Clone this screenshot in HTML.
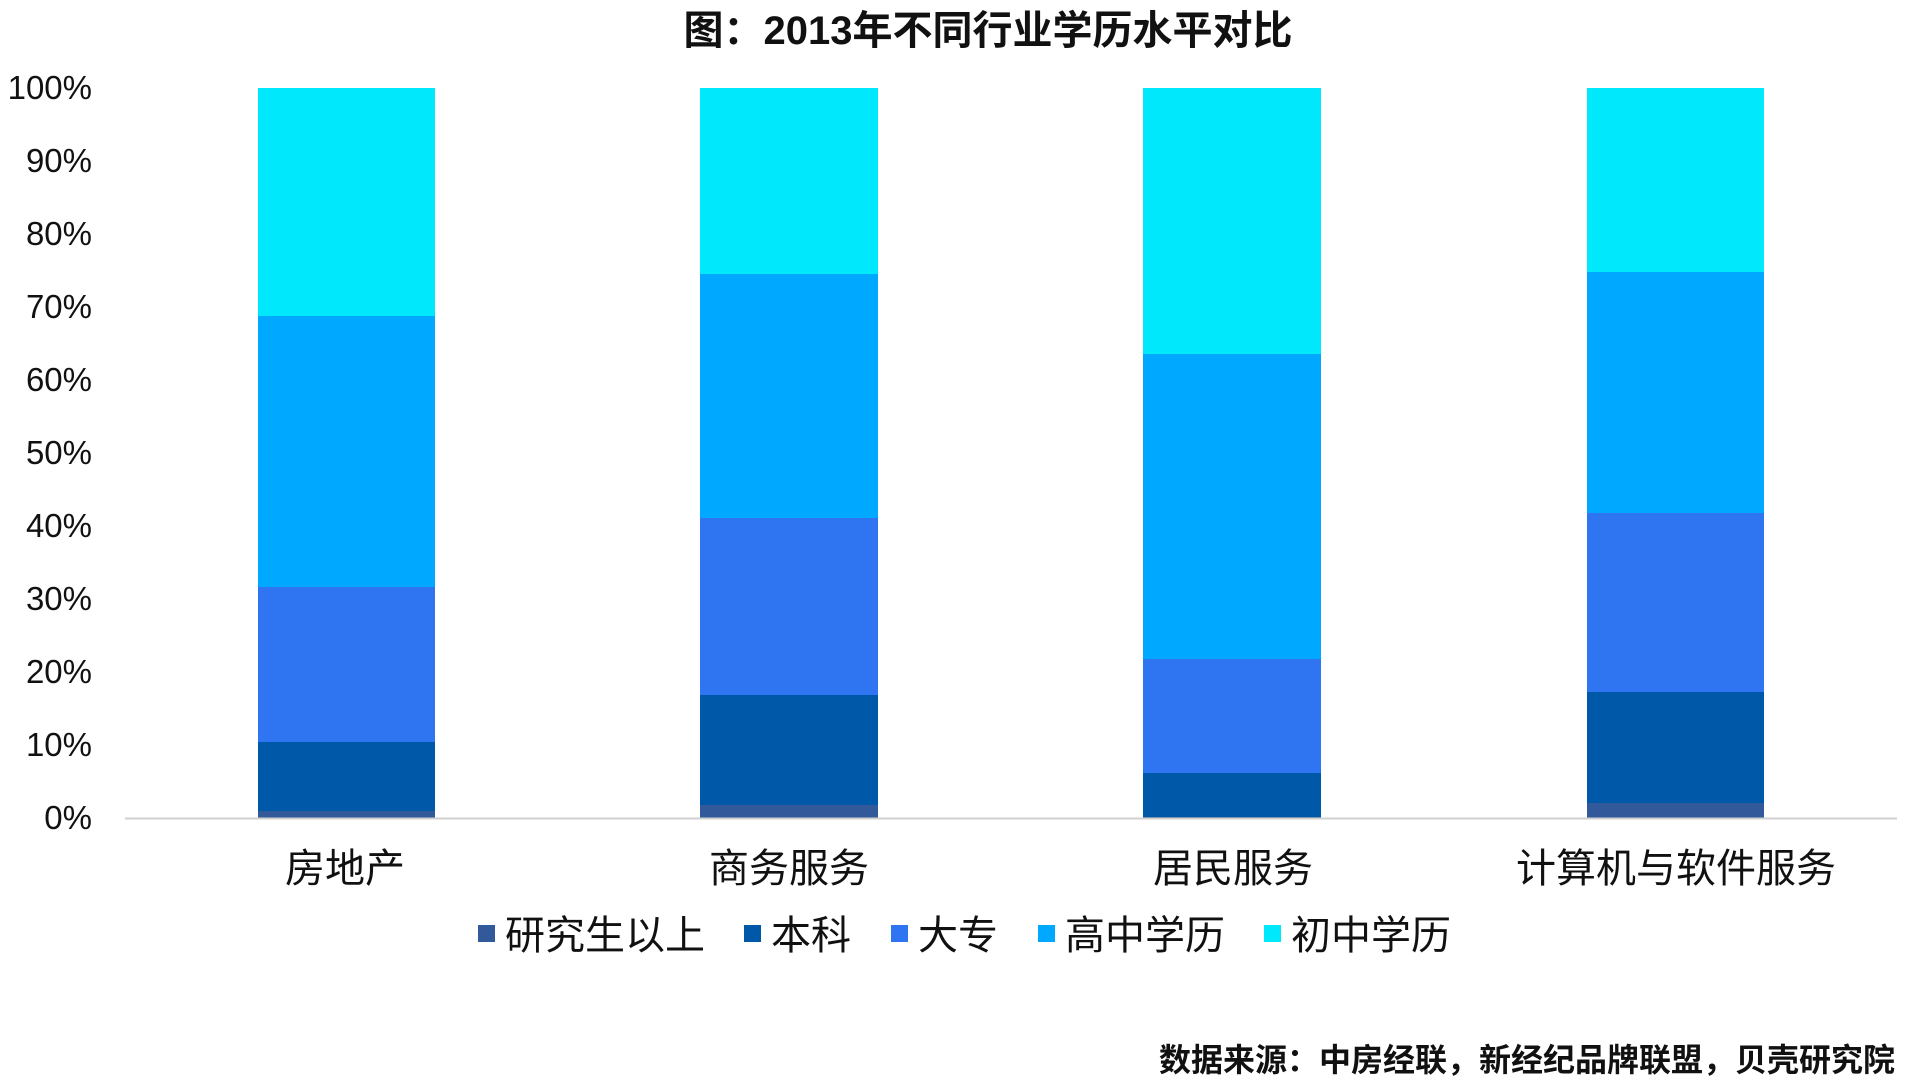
<!DOCTYPE html>
<html><head><meta charset="utf-8"><style>
body{margin:0;width:1920px;height:1080px;background:#fff;overflow:hidden}
svg text{font-family:"Liberation Sans","Noto Sans CJK SC",sans-serif;fill:#111}
</style></head><body>
<svg width="1920" height="1080" xmlns="http://www.w3.org/2000/svg">
<text x="988" y="44" font-size="40" text-anchor="middle" font-weight="bold">图：2013年不同行业学历水平对比</text>
<g font-size="33" text-anchor="end">
<text x="92" y="99">100%</text><text x="92" y="172">90%</text><text x="92" y="245">80%</text>
<text x="92" y="318">70%</text><text x="92" y="391">60%</text><text x="92" y="464">50%</text>
<text x="92" y="537">40%</text><text x="92" y="610">30%</text><text x="92" y="683">20%</text>
<text x="92" y="756">10%</text><text x="92" y="829">0%</text>
</g>
<!-- bar1 -->
<rect x="258" y="88" width="177" height="228" fill="#00e8fb"/>
<rect x="258" y="316" width="177" height="271" fill="#00a8ff"/>
<rect x="258" y="587" width="177" height="155" fill="#2f74f0"/>
<rect x="258" y="742" width="177" height="69" fill="#0058a8"/>
<rect x="258" y="811" width="177" height="7" fill="#325a9b"/>
<!-- bar2 -->
<rect x="700" y="88" width="178" height="186" fill="#00e8fb"/>
<rect x="700" y="274" width="178" height="244" fill="#00a8ff"/>
<rect x="700" y="518" width="178" height="177" fill="#2f74f0"/>
<rect x="700" y="695" width="178" height="110" fill="#0058a8"/>
<rect x="700" y="805" width="178" height="13" fill="#325a9b"/>
<!-- bar3 -->
<rect x="1143" y="88" width="178" height="266" fill="#00e8fb"/>
<rect x="1143" y="354" width="178" height="305" fill="#00a8ff"/>
<rect x="1143" y="659" width="178" height="114" fill="#2f74f0"/>
<rect x="1143" y="773" width="178" height="44" fill="#0058a8"/>
<rect x="1143" y="817" width="178" height="1" fill="#325a9b"/>
<!-- bar4 -->
<rect x="1587" y="88" width="177" height="184" fill="#00e8fb"/>
<rect x="1587" y="272" width="177" height="241" fill="#00a8ff"/>
<rect x="1587" y="513" width="177" height="179" fill="#2f74f0"/>
<rect x="1587" y="692" width="177" height="111" fill="#0058a8"/>
<rect x="1587" y="803" width="177" height="15" fill="#325a9b"/>
<line x1="125" y1="818.5" x2="1897" y2="818.5" stroke="#d0d0d0" stroke-width="2"/>
<g font-size="40" text-anchor="middle">
<text x="345" y="882">房地产</text><text x="789" y="882">商务服务</text>
<text x="1233" y="882">居民服务</text><text x="1676" y="882">计算机与软件服务</text>
</g>
<g font-size="40">
<rect x="478" y="925" width="17" height="17" fill="#325a9b"/><text x="505" y="949">研究生以上</text>
<rect x="744" y="925" width="17" height="17" fill="#0058a8"/><text x="771" y="949">本科</text>
<rect x="891" y="925" width="17" height="17" fill="#2f74f0"/><text x="918" y="949">大专</text>
<rect x="1038" y="925" width="17" height="17" fill="#00a8ff"/><text x="1065" y="949">高中学历</text>
<rect x="1264" y="925" width="17" height="17" fill="#00e8fb"/><text x="1291" y="949">初中学历</text>
</g>
<text x="1895" y="1071" font-size="32" text-anchor="end" font-weight="bold">数据来源：中房经联，新经纪品牌联盟，贝壳研究院</text>
</svg>
</body></html>
